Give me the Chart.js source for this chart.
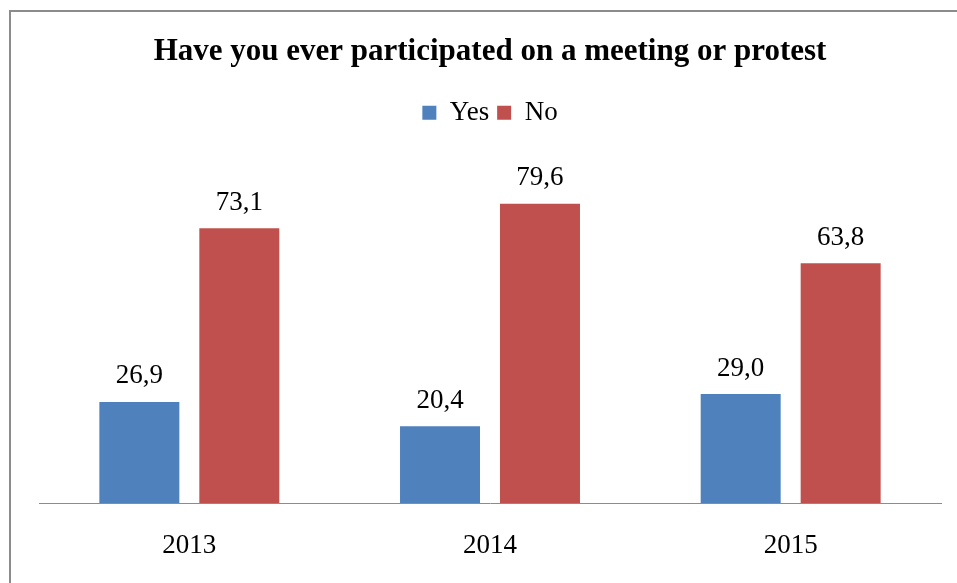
<!DOCTYPE html>
<html>
<head>
<meta charset="utf-8">
<script src="https://cdn.jsdelivr.net/npm/chart.js@4/dist/chart.umd.min.js"></script>
<style>
  html, body { margin: 0; padding: 0; background: #fff; }
  #wrap { position: relative; width: 957px; height: 583px; }
</style>
</head>
<body>
<div id="wrap"><canvas id="chart" width="957" height="583"></canvas></div>
<script>
const years = ['2013', '2014', '2015'];
const yesValues = [26.9, 20.4, 29.0];
const noValues = [73.1, 79.6, 63.8];

const serif = "'Liberation Serif', 'Times New Roman', serif";

// frame line on the left and top edge, like the sheet's chart box
const framePlugin = {
  id: 'frame',
  beforeDraw(chart) {
    const ctx = chart.ctx;
    ctx.save();
    ctx.strokeStyle = '#8c8c8c';
    ctx.lineWidth = 2;
    ctx.beginPath();
    ctx.moveTo(10, chart.height + 5);
    ctx.lineTo(10, 11);
    ctx.lineTo(chart.width + 5, 11);
    ctx.stroke();
    ctx.restore();
  }
};

// value labels above each bar, with a decimal comma
const valueLabels = {
  id: 'valueLabels',
  afterDatasetsDraw(chart) {
    const ctx = chart.ctx;
    ctx.save();
    ctx.font = '27px ' + serif;
    ctx.fillStyle = '#000';
    ctx.textAlign = 'center';
    ctx.textBaseline = 'bottom';
    chart.data.datasets.forEach((ds, i) => {
      chart.getDatasetMeta(i).data.forEach((bar, j) => {
        const txt = ds.data[j].toFixed(1).replace('.', ',');
        ctx.fillText(txt, bar.x, bar.y - 12);
      });
    });
    ctx.restore();
  }
};

new Chart(document.getElementById('chart'), {
  type: 'bar',
  data: {
    labels: years,
    datasets: [
      { label: 'Yes', data: yesValues, backgroundColor: '#4F81BD' },
      { label: 'No', data: noValues, backgroundColor: '#C0504D' }
    ]
  },
  options: {
    responsive: false,
    animation: false,
    layout: { padding: { left: 39, right: 16, top: 14, bottom: 10 } },
    datasets: {
      bar: { categoryPercentage: 0.665, barPercentage: 0.8 }
    },
    scales: {
      x: {
        grid: { display: false, drawTicks: false },
        border: { display: true, color: '#8c8c8c', width: 1 },
        ticks: { color: '#000', font: { family: serif, size: 27 }, padding: 27 },
        afterFit(scale) { scale.height = 70; }
      },
      y: {
        display: false,
        min: 0,
        max: 97.6
      }
    },
    plugins: {
      title: {
        display: true,
        text: 'Have you ever participated on a meeting or protest',
        color: '#000',
        font: { family: serif, size: 31, weight: 'bold' },
        padding: { top: 19, bottom: 21 }
      },
      legend: {
        position: 'top',
        labels: {
          color: '#000',
          boxWidth: 14,
          boxHeight: 14,
          padding: 8,
          font: { family: serif, size: 27 }
        }
      },
      tooltip: { enabled: false }
    }
  },
  plugins: [framePlugin, valueLabels]
});
</script>
</body>
</html>
